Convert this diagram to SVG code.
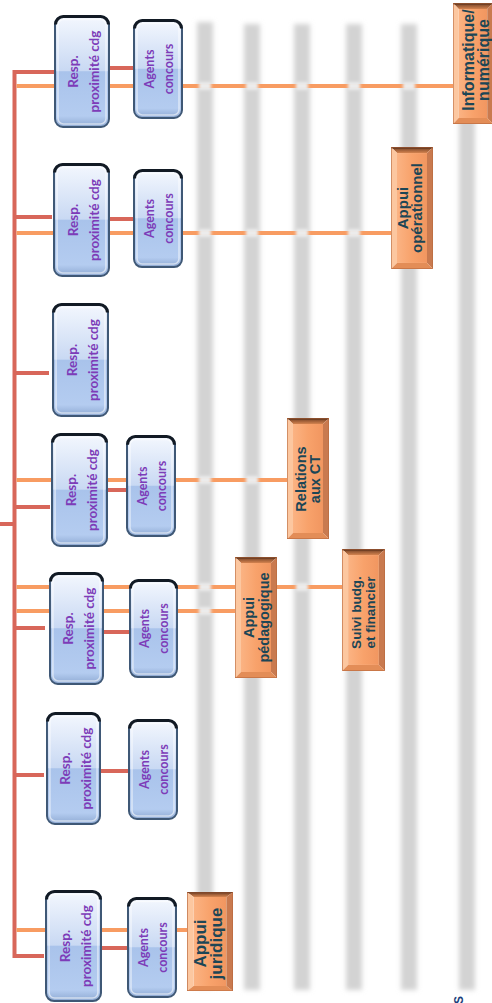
<svg xmlns="http://www.w3.org/2000/svg" xmlns:xlink="http://www.w3.org/1999/xlink" width="492" height="1003" viewBox="0 0 492 1003">
  <style>
    .red{stroke:#d8675a;stroke-width:4;fill:none}
    .org{stroke:#f89c62;stroke-width:4;fill:none}
    .bar{fill:#d3d3d3;filter:url(#soft)}
    .cross{fill:#ececec;filter:url(#soft2)}
    .tp{font-family:Lato,'Open Sans',sans-serif;font-weight:700;fill:#7d3cb8;text-anchor:middle}
    .tr{font-size:13.5px}
    .ta{font-size:12.5px}
    .to{font-family:'Liberation Sans',Arial,sans-serif;font-weight:700;fill:#1c4656;text-anchor:middle}
  </style>
  <defs>
    <filter id="soft" x="-100%" y="-5%" width="300%" height="110%">
      <feGaussianBlur stdDeviation="2.6"/>
    </filter>
    <filter id="soft2" x="-50%" y="-50%" width="200%" height="200%">
      <feGaussianBlur stdDeviation="1.4"/>
    </filter>
    <linearGradient id="gBlue" x1="0" y1="0" x2="0" y2="1">
      <stop offset="0" stop-color="#f3f7fe"/>
      <stop offset="0.49" stop-color="#c9d9f3"/>
      <stop offset="0.5" stop-color="#a9c3eb"/>
      <stop offset="0.9" stop-color="#b4ccf0"/>
      <stop offset="1" stop-color="#8ea9d2"/>
    </linearGradient>
    <linearGradient id="gOrFace" x1="0" y1="0" x2="1" y2="0">
      <stop offset="0" stop-color="#fbb383"/>
      <stop offset="0.5" stop-color="#f8a26b"/>
      <stop offset="1" stop-color="#f19660"/>
    </linearGradient>
    <linearGradient id="gOrTop" x1="0" y1="0" x2="0" y2="1">
      <stop offset="0" stop-color="#6a3b22"/>
      <stop offset="1" stop-color="#d4834f"/>
    </linearGradient>
    <symbol id="respBox" viewBox="0 0 56 113" preserveAspectRatio="none">
      <rect x="1" y="1.5" width="54" height="110.5" rx="8" fill="url(#gBlue)" stroke="#3f5876" stroke-width="2"/>
      <rect x="4" y="4.5" width="48" height="104.5" rx="5.5" fill="none" stroke="#ffffff" stroke-opacity="0.55" stroke-width="1.5"/>
      <path d="M1.5,9.5 A8,8 0 0 1 9.5,1.5 H46.5 A8,8 0 0 1 54.5,9.5" fill="none" stroke="#121a24" stroke-width="3"/>
    </symbol>
    <symbol id="agentBox" viewBox="0 0 50 100" preserveAspectRatio="none">
      <rect x="1" y="1.5" width="48" height="97.5" rx="8" fill="url(#gBlue)" stroke="#3f5876" stroke-width="2"/>
      <rect x="4" y="4.5" width="42" height="91.5" rx="5.5" fill="none" stroke="#ffffff" stroke-opacity="0.55" stroke-width="1.5"/>
      <path d="M1.5,9.5 A8,8 0 0 1 9.5,1.5 H40.5 A8,8 0 0 1 48.5,9.5" fill="none" stroke="#121a24" stroke-width="3"/>
    </symbol>
    <symbol id="orBox" viewBox="0 0 42 121" preserveAspectRatio="none">
      <rect x="6" y="6" width="30" height="109" fill="url(#gOrFace)"/>
      <polygon points="0,0 42,0 36,6 6,6" fill="url(#gOrTop)"/>
      <polygon points="0,0 6,6 6,115 0,121" fill="#fcc7a0"/>
      <polygon points="42,0 42,121 36,115 36,6" fill="#c97a4f"/>
      <polygon points="0,121 6,115 36,115 42,121" fill="#e38d57"/>
      <rect x="0" y="0" width="42" height="1.3" fill="#4a2816"/>
      <rect x="0.3" y="0.3" width="41.4" height="120.4" fill="none" stroke="#b8693f" stroke-width="0.6"/>
    </symbol>
  </defs>

  <rect width="492" height="1003" fill="#ffffff"/>

  <!-- background guide stripes -->
  <g id="stripes">
    <rect class="bar" x="197" y="22" width="16" height="966"/>
    <rect class="bar" x="244" y="24" width="16" height="966"/>
    <rect class="bar" x="294" y="24" width="16" height="966"/>
    <rect class="bar" x="346" y="24" width="16" height="966"/>
    <rect class="bar" x="401" y="24" width="16" height="966"/>
    <rect class="bar" x="459" y="24" width="16" height="966"/>
  </g>

  <!-- connectors -->
  <g id="connectors">
    <!-- trunk and branches to the proximity managers -->
    <path class="red" d="M0,524 H14.5"/>
    <path class="red" d="M54,72 H14.5 V956 H44"/>
    <path class="red" d="M14.5,217 H52"/>
    <path class="red" d="M14.5,373 H49"/>
    <path class="red" d="M14.5,507 H50"/>
    <path class="red" d="M14.5,628 H45"/>
    <path class="red" d="M14.5,775 H44"/>
    <!-- manager to agents -->
    <path class="red" d="M108,68 H135"/>
    <path class="red" d="M108,219 H135"/>
    <path class="red" d="M106,490 H128"/>
    <path class="red" d="M102,632 H131"/>
    <path class="red" d="M99,771 H130"/>
    <path class="red" d="M100,948 H129"/>
    <!-- support lines -->
    <path class="org" d="M16.5,86 H455"/>
    <path class="org" d="M16.5,233 H393"/>
    <path class="org" d="M16.5,480 H289"/>
    <path class="org" d="M16.5,587 H344"/>
    <path class="org" d="M16.5,611 H237"/>
    <path class="org" d="M16.5,930 H189"/>
    <!-- where support lines pass the stripes -->
    <rect class="cross" x="199" y="82" width="12" height="8"/>
    <rect class="cross" x="246" y="82" width="12" height="8"/>
    <rect class="cross" x="296" y="82" width="12" height="8"/>
    <rect class="cross" x="348" y="82" width="12" height="8"/>
    <rect class="cross" x="403" y="82" width="12" height="8"/>
    <rect class="cross" x="199" y="229" width="12" height="8"/>
    <rect class="cross" x="246" y="229" width="12" height="8"/>
    <rect class="cross" x="296" y="229" width="12" height="8"/>
    <rect class="cross" x="348" y="229" width="12" height="8"/>
    <rect class="cross" x="199" y="476" width="12" height="8"/>
    <rect class="cross" x="246" y="476" width="12" height="8"/>
    <rect class="cross" x="199" y="583" width="12" height="8"/>
    <rect class="cross" x="296" y="583" width="12" height="8"/>
    <rect class="cross" x="199" y="607" width="12" height="8"/>
  </g>

  <!-- proximity managers and agents -->
  <g id="resp1"><use href="#respBox" x="54" y="15" width="56" height="113"/>
    <text class="tp tr" transform="translate(84,71.5) rotate(-90)"><tspan x="0" y="-5.8">Resp.</tspan><tspan x="0" y="15.2">proximité cdg</tspan></text></g>
  <g id="agents1"><use href="#agentBox" x="133" y="19" width="50" height="100"/>
    <text class="tp ta" transform="translate(159,69) rotate(-90)"><tspan x="0" y="-5.1">Agents</tspan><tspan x="0" y="13.9">concours</tspan></text></g>

  <g id="resp2"><use href="#respBox" x="53" y="163" width="57" height="114"/>
    <text class="tp tr" transform="translate(83.5,220) rotate(-90)"><tspan x="0" y="-5.8">Resp.</tspan><tspan x="0" y="15.2">proximité cdg</tspan></text></g>
  <g id="agents2"><use href="#agentBox" x="133" y="169" width="50" height="99"/>
    <text class="tp ta" transform="translate(159,218.5) rotate(-90)"><tspan x="0" y="-5.1">Agents</tspan><tspan x="0" y="13.9">concours</tspan></text></g>

  <g id="resp3"><use href="#respBox" x="52" y="303" width="57" height="114"/>
    <text class="tp tr" transform="translate(82.5,360) rotate(-90)"><tspan x="0" y="-5.8">Resp.</tspan><tspan x="0" y="15.2">proximité cdg</tspan></text></g>

  <g id="resp4"><use href="#respBox" x="51" y="433" width="57" height="114"/>
    <text class="tp tr" transform="translate(81.5,490) rotate(-90)"><tspan x="0" y="-5.8">Resp.</tspan><tspan x="0" y="15.2">proximité cdg</tspan></text></g>
  <g id="agents4"><use href="#agentBox" x="126" y="435" width="50" height="102"/>
    <text class="tp ta" transform="translate(152,486) rotate(-90)"><tspan x="0" y="-5.1">Agents</tspan><tspan x="0" y="13.9">concours</tspan></text></g>

  <g id="resp5"><use href="#respBox" x="49" y="572" width="55" height="113"/>
    <text class="tp tr" transform="translate(78.5,628.5) rotate(-90)"><tspan x="0" y="-5.8">Resp.</tspan><tspan x="0" y="15.2">proximité cdg</tspan></text></g>
  <g id="agents5"><use href="#agentBox" x="129" y="579" width="49" height="99"/>
    <text class="tp ta" transform="translate(154.5,628.5) rotate(-90)"><tspan x="0" y="-5.1">Agents</tspan><tspan x="0" y="13.9">concours</tspan></text></g>

  <g id="resp6"><use href="#respBox" x="46" y="712" width="55" height="113"/>
    <text class="tp tr" transform="translate(75.5,768.5) rotate(-90)"><tspan x="0" y="-5.8">Resp.</tspan><tspan x="0" y="15.2">proximité cdg</tspan></text></g>
  <g id="agents6"><use href="#agentBox" x="128" y="719" width="50" height="101"/>
    <text class="tp ta" transform="translate(154,769.5) rotate(-90)"><tspan x="0" y="-5.1">Agents</tspan><tspan x="0" y="13.9">concours</tspan></text></g>

  <g id="resp7"><use href="#respBox" x="45" y="890" width="57" height="112"/>
    <text class="tp tr" transform="translate(75.5,946) rotate(-90)"><tspan x="0" y="-5.8">Resp.</tspan><tspan x="0" y="15.2">proximité cdg</tspan></text></g>
  <g id="agents7"><use href="#agentBox" x="127" y="897" width="50" height="101"/>
    <text class="tp ta" transform="translate(153,947.5) rotate(-90)"><tspan x="0" y="-5.1">Agents</tspan><tspan x="0" y="13.9">concours</tspan></text></g>

  <!-- support functions -->
  <g id="informatique"><use href="#orBox" x="453" y="3" width="40" height="121"/>
    <text class="to" font-size="16" transform="translate(476,60) rotate(-90)"><tspan x="0" y="-1.7">Informatique/</tspan><tspan x="0" y="13.3">numérique</tspan></text></g>
  <g id="appui-operationnel"><use href="#orBox" x="391" y="147" width="42" height="122"/>
    <text class="to" font-size="15" transform="translate(410,208) rotate(-90)"><tspan x="0" y="-1.6">Appui</tspan><tspan x="0" y="12.4">opérationnel</tspan></text></g>
  <g id="relations-ct"><use href="#orBox" x="287" y="418" width="42" height="121"/>
    <text class="to" font-size="14.5" transform="translate(307.5,479) rotate(-90)"><tspan x="0" y="-1.8">Relations</tspan><tspan x="0" y="12.2">aux CT</tspan></text></g>
  <g id="appui-pedagogique"><use href="#orBox" x="235" y="557" width="42" height="121"/>
    <text class="to" font-size="14.5" transform="translate(256,617.5) rotate(-90)"><tspan x="0" y="-2.3">Appui</tspan><tspan x="0" y="12.7">pédagogique</tspan></text></g>
  <g id="suivi-budg"><use href="#orBox" x="342" y="549" width="43" height="122"/>
    <text class="to" font-size="13.5" transform="translate(363,612.5) rotate(-90)"><tspan x="0" y="-2.1">Suivi budg.</tspan><tspan x="0" y="11.9">et financier</tspan></text></g>
  <g id="appui-juridique"><use href="#orBox" x="187" y="892" width="46" height="99"/>
    <text class="to" font-size="17" transform="translate(208,943.5) rotate(-90)"><tspan x="0" y="-1.9">Appui</tspan><tspan x="0" y="14.1">juridique</tspan></text></g>

  <text font-family="'Liberation Sans',Arial,sans-serif" font-weight="700" font-size="12" fill="#1c3f7c" transform="translate(463,1004) rotate(-90)">S</text>
</svg>
